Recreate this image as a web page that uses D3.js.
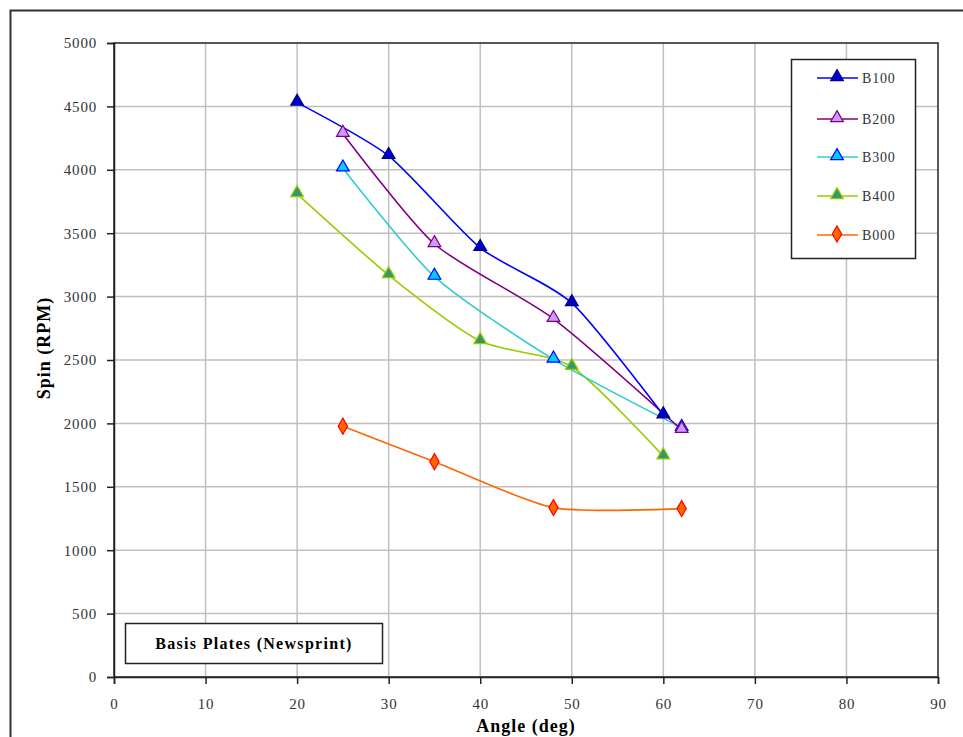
<!DOCTYPE html>
<html><head><meta charset="utf-8">
<script src="https://cdn.jsdelivr.net/npm/d3@7"></script>
<style>body{margin:0;background:#fff}svg{display:block}</style>
</head><body>
<script>
const xTicks = [0,10,20,30,40,50,60,70,80,90];
const yTicks = [0,500,1000,1500,2000,2500,3000,3500,4000,4500,5000];
const seriesNames = ["B100","B200","B300","B400","B000"];
const b100X = [20,30,40,50,60];
const b100Y = [4530,4110,3385,2950,2065];
const b200X = [25,35,48,62];
const b200Y = [4285,3415,2825,1950];
const b300X = [25,35,48,62];
const b300Y = [4012,3158,2505,1966];
const b400X = [20,30,40,50,60];
const b400Y = [3810,3170,2650,2447,1742];
const b000X = [25,35,48,62];
const b000Y = [1978,1698,1336,1328];

const W=963,H=737;
const svg=d3.select("body").append("svg").attr("width",W).attr("height",H);
const L=114,R=938,T=43,B=677;
const x=d3.scaleLinear().domain([0,90]).range([L,R]);
const y=d3.scaleLinear().domain([0,5000]).range([B,T]);
const font="'Liberation Serif','Times New Roman',serif";

// outer frame
svg.append("path").attr("d",`M10.5,${H+5} V10.5 H${W+5}`).attr("fill","none").attr("stroke","#333").attr("stroke-width",2);

// grid
svg.append("g").selectAll("line").data(xTicks.slice(1,-1)).join("line")
  .attr("x1",d=>x(d)).attr("x2",d=>x(d)).attr("y1",T).attr("y2",B)
  .attr("stroke","#c0c0c0").attr("stroke-width",1.5);
svg.append("g").selectAll("line").data(yTicks.slice(1,-1)).join("line")
  .attr("x1",L).attr("x2",R).attr("y1",d=>y(d)).attr("y2",d=>y(d))
  .attr("stroke","#c0c0c0").attr("stroke-width",1.5);

// plot border
svg.append("rect").attr("x",L).attr("y",T).attr("width",R-L).attr("height",B-T)
  .attr("fill","none").attr("stroke","#222").attr("stroke-width",1.5);

// axes
const xAxis=svg.append("g").attr("transform",`translate(0,${B})`)
  .call(d3.axisBottom(x).tickValues(xTicks).tickSize(7).tickPadding(14).tickFormat(d3.format("d")));
const yAxis=svg.append("g").attr("transform",`translate(${L},0)`)
  .call(d3.axisLeft(y).tickValues(yTicks).tickSize(7).tickPadding(10).tickFormat(d3.format("d")));
[xAxis,yAxis].forEach(a=>{
  a.select(".domain").attr("stroke","#222").attr("stroke-width",1.5);
  a.selectAll(".tick line").attr("stroke","#222").attr("stroke-width",1.5);
  a.selectAll("text").attr("font-family",font).attr("font-size",15).attr("letter-spacing","0.8px").attr("fill","#333");
});

svg.append("text").attr("x",(L+R)/2).attr("y",732).attr("text-anchor","middle")
  .attr("font-family",font).attr("font-weight","bold").attr("font-size",18).attr("letter-spacing","1px").text("Angle (deg)");
svg.append("text").attr("transform",`translate(50,348) rotate(-90)`).attr("text-anchor","middle")
  .attr("font-family",font).attr("font-weight","bold").attr("font-size",18).attr("letter-spacing","1px").text("Spin (RPM)");

const styles=[
  {line:"#0000ff",fill:"#0000cc",stroke:"#000080",sym:d3.symbolTriangle},
  {line:"#800080",fill:"#cc99ff",stroke:"#800080",sym:d3.symbolTriangle},
  {line:"#33cccc",fill:"#00ccff",stroke:"#0000ff",sym:d3.symbolTriangle},
  {line:"#99cc00",fill:"#339966",stroke:"#99cc00",sym:d3.symbolTriangle},
  {line:"#ff6600",fill:"#ff6600",stroke:"#ff0000",sym:d3.symbolDiamond}
];
const data=[[b100X,b100Y],[b200X,b200Y],[b300X,b300Y],[b400X,b400Y],[b000X,b000Y]]
  .map(([xs,ys])=>xs.map((v,i)=>({x:v,y:ys[i]})));
const line=d3.line().x(d=>x(d.x)).y(d=>y(d.y)).curve(d3.curveCardinal.tension(0.3));

const drawOrder=[4,3,2,1,0];
drawOrder.forEach(i=>{
  svg.append("path").datum(data[i]).attr("d",line).attr("fill","none")
    .attr("stroke",styles[i].line).attr("stroke-width",1.6);
});
drawOrder.forEach(i=>{
  const st=styles[i];
  const sym=d3.symbol().type(st.sym).size(st.sym===d3.symbolDiamond?75:70);
  svg.append("g").selectAll("path").data(data[i]).join("path")
    .attr("d",sym).attr("transform",d=>`translate(${x(d.x)},${y(d.y)-(st.sym===d3.symbolTriangle?1:0)})`)
    .attr("fill",st.fill).attr("stroke",st.stroke).attr("stroke-width",1.2);
});

// legend
const lg=svg.append("g");
lg.append("rect").attr("x",791.5).attr("y",59.5).attr("width",124).attr("height",199)
  .attr("fill","#fff").attr("stroke","#222").attr("stroke-width",1.5);
const legY=[78,119,157,196,235];
seriesNames.forEach((n,k)=>{
  const st=styles[k];
  lg.append("line").attr("x1",817).attr("x2",858).attr("y1",legY[k]).attr("y2",legY[k])
    .attr("stroke",st.line).attr("stroke-width",1.6);
  lg.append("path").attr("d",d3.symbol().type(st.sym).size(st.sym===d3.symbolDiamond?75:70))
    .attr("transform",`translate(837,${legY[k]-1})`).attr("fill",st.fill).attr("stroke",st.stroke).attr("stroke-width",1.2);
  lg.append("text").attr("x",862).attr("y",legY[k]+5).attr("font-family",font).attr("font-size",14)
    .attr("letter-spacing","0.8px").attr("fill","#333").text(n);
});

// annotation box
svg.append("rect").attr("x",125.5).attr("y",623.5).attr("width",257).attr("height",40)
  .attr("fill","#fff").attr("stroke","#222").attr("stroke-width",1.5);
svg.append("text").attr("x",254).attr("y",649).attr("text-anchor","middle")
  .attr("font-family",font).attr("font-weight","bold").attr("font-size",16).attr("letter-spacing","1.3px").text("Basis Plates (Newsprint)");
</script>
</body></html>
